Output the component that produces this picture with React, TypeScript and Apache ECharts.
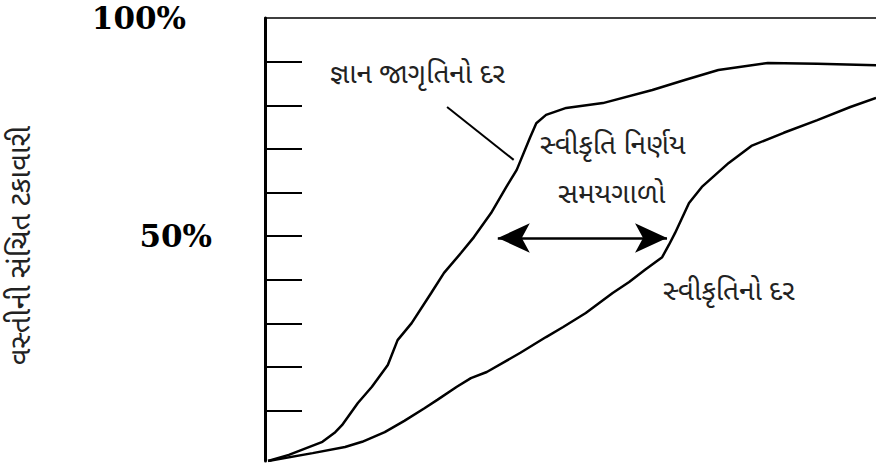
import React, { useEffect, useRef } from "react";
import * as echarts from "echarts";

// Cumulative % of population vs time (x as % of time span)
const awarenessX = [0.5, 3.9, 9.4, 11.5, 12.6, 15.2, 17.5, 20.1, 21.7, 24.0, 27.2, 29.3, 32.1, 34.2, 37.0, 39.5, 41.2, 43.4, 44.4, 46.0, 49.3, 55.3, 63.4, 68.7, 74.2, 82.3, 90.4, 100];
const awarenessY = [-1.5, -0.1, 2.9, 5.1, 6.7, 11.8, 15.5, 20.5, 26.2, 30.1, 37.0, 41.6, 46.2, 49.8, 55.3, 61.3, 65.2, 72.7, 75.9, 77.8, 79.4, 80.5, 83.5, 85.8, 88.1, 89.7, 89.5, 89.2];

const adoptionX = [0.5, 7.8, 13.1, 15.9, 19.6, 22.8, 26.1, 28.2, 31.4, 33.7, 36.3, 41.8, 46.0, 48.8, 52.5, 56.9, 59.6, 62.2, 65.0, 66.1, 67.1, 69.4, 71.5, 75.9, 79.6, 84.9, 90.4, 95.8, 100];
const adoptionY = [-1.5, 0.3, 1.7, 2.9, 5.1, 7.7, 10.6, 12.5, 15.5, 17.5, 18.9, 23.3, 26.9, 29.2, 32.4, 37.0, 39.5, 42.3, 45.2, 48.0, 50.7, 57.6, 61.3, 66.8, 70.7, 73.7, 76.6, 79.6, 81.7];

const tickValues = [10, 20, 30, 40, 50, 60, 70, 80, 90];
const midLabelValues = [50];
const topLabelValues = [100];

// Annotations (data coordinates)
const decisionArrow = [[38.1, 49.6], [65.8, 49.6]];
const pointerLine = [[29.8, 79.6], [40.7, 67.5]];

const yAxisTitle = "વસ્તીની સંચિત ટકાવારી";
const awarenessLabel = "જ્ઞાન જાગૃતિનો દર";
const decisionLabel1 = "સ્વીકૃતિ નિર્ણય";
const decisionLabel2 = "સમયગાળો";
const adoptionLabel = "સ્વીકૃતિનો દર";

const GUJ_FONT = "'Noto Sans Gujarati', 'Noto Sans', sans-serif";

export default function App() {
  const ref = useRef<HTMLDivElement>(null);
  useEffect(() => {
    if (!ref.current) return;
    const chart = echarts.init(ref.current, undefined, { renderer: "svg" });
    const zip = (xs: number[], ys: number[]) => xs.map((x, i) => [x, ys[i]]);
    const pctLabel = {
      show: true,
      formatter: "{value}%",
      fontFamily: "'DejaVu Serif', serif",
      fontWeight: "bold",
      fontSize: 31,
      color: "#000",
    };
    chart.setOption({
      animation: false,
      backgroundColor: "#fff",
      grid: { left: 259, right: 0, top: 18, bottom: 2 },
      xAxis: {
        type: "value",
        min: 0,
        max: 100,
        position: "top",
        axisLine: { show: true, onZero: false, lineStyle: { color: "#000", width: 1.5 } },
        axisTick: { show: false },
        axisLabel: { show: false },
        splitLine: { show: false },
      },
      yAxis: [
        {
          type: "value",
          min: -1.5,
          max: 100,
          position: "left",
          name: yAxisTitle,
          nameLocation: "middle",
          nameRotate: 90,
          nameGap: 228,
          nameTextStyle: { fontFamily: GUJ_FONT, fontSize: 29, color: "#222", padding: [0, 12, 0, 0] },
          axisLine: { show: true, lineStyle: { color: "#000", width: 3 } },
          axisTick: {
            show: true,
            inside: true,
            length: 37,
            customValues: tickValues,
            lineStyle: { color: "#000", width: 2 },
          },
          axisLabel: { ...pctLabel, customValues: midLabelValues, margin: 53 },
          splitLine: { show: false },
        },
        {
          type: "value",
          min: -1.5,
          max: 100,
          position: "left",
          offset: 0,
          axisLine: { show: false },
          axisTick: { show: false },
          axisLabel: { ...pctLabel, customValues: topLabelValues, margin: 79 },
          splitLine: { show: false },
        },
      ],
      series: [
        {
          name: awarenessLabel,
          type: "line",
          data: zip(awarenessX, awarenessY),
          symbol: "none",
          lineStyle: { color: "#000", width: 2.5 },
          markLine: {
            silent: true,
            symbol: ["none", "none"],
            label: { show: false },
            lineStyle: { color: "#000", width: 2, type: "solid" },
            data: [[{ coord: pointerLine[0] }, { coord: pointerLine[1] }]],
          },
        },
        {
          name: adoptionLabel,
          type: "line",
          data: zip(adoptionX, adoptionY),
          symbol: "none",
          lineStyle: { color: "#000", width: 2.5 },
          markLine: {
            silent: true,
            symbol: ["arrow", "arrow"],
            symbolSize: [22, 32],
            label: { show: false },
            lineStyle: { color: "#000", width: 2.5, type: "solid" },
            itemStyle: { color: "#000" },
            data: [[{ coord: decisionArrow[0] }, { coord: decisionArrow[1] }]],
          },
        },
      ],
      graphic: [
        {
          type: "text",
          left: 330,
          top: 62,
          style: { text: awarenessLabel, fontFamily: GUJ_FONT, fontSize: 28, fill: "#222" },
        },
        {
          type: "text",
          left: 540,
          top: 133,
          style: { text: decisionLabel1, fontFamily: GUJ_FONT, fontSize: 28, fill: "#222" },
        },
        {
          type: "text",
          left: 558,
          top: 182,
          style: { text: decisionLabel2, fontFamily: GUJ_FONT, fontSize: 28, fill: "#222" },
        },
        {
          type: "text",
          left: 663,
          top: 279,
          style: { text: adoptionLabel, fontFamily: GUJ_FONT, fontSize: 28, fill: "#222" },
        },
      ],
    });
    return () => chart.dispose();
  }, []);
  return (
    <div
      ref={ref}
      style={{ position: "absolute", left: 0, top: 0, width: 876, height: 463 }}
    />
  );
}
